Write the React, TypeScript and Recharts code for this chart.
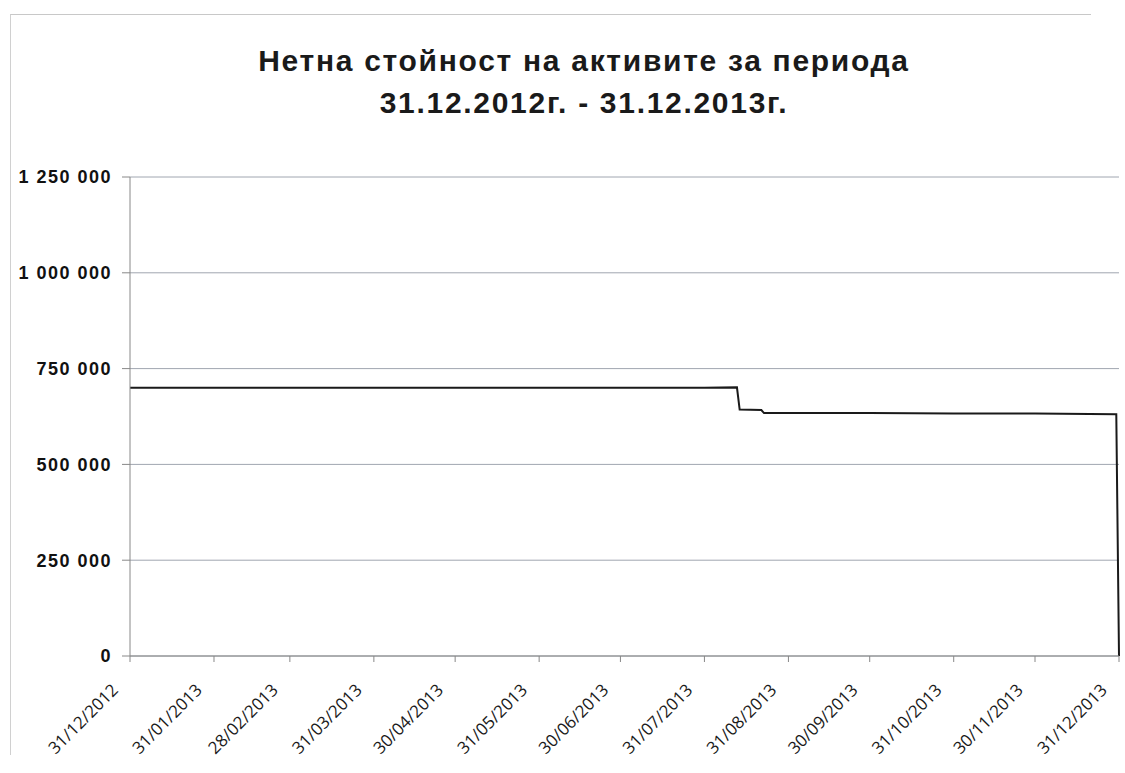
import React from 'react';
import { LineChart, Line, XAxis, YAxis, CartesianGrid } from 'recharts';

const title1 = 'Нетна стойност на активите за периода';
const title2 = '31.12.2012г. - 31.12.2013г.';

const navDates = [
  '2012-12-31', '2013-01-31', '2013-02-28', '2013-03-31', '2013-04-30', '2013-05-31',
  '2013-06-30', '2013-07-31', '2013-08-12', '2013-08-13', '2013-08-21', '2013-08-22',
  '2013-09-30', '2013-10-31', '2013-11-30', '2013-12-30', '2013-12-31',
];
const navValues = [
  700000, 700000, 700000, 700000, 700000, 700000,
  700000, 700000, 701000, 643000, 642000, 634000,
  634000, 633000, 633000, 631000, 0,
];
const tickDates = [
  '2012-12-31', '2013-01-31', '2013-02-28', '2013-03-31', '2013-04-30', '2013-05-31', '2013-06-30',
  '2013-07-31', '2013-08-31', '2013-09-30', '2013-10-31', '2013-11-30', '2013-12-31',
];
const yTicks = [0, 250000, 500000, 750000, 1000000, 1250000];

const DAY = 86400000;
const origin = Date.UTC(2012, 11, 31);
const toDay = (s: string) => {
  const [y, m, d] = s.split('-').map(Number);
  return Math.round((Date.UTC(y, m - 1, d) - origin) / DAY);
};
const fmtDay = (n: number) => {
  const dt = new Date(origin + n * DAY);
  const dd = String(dt.getUTCDate()).padStart(2, '0');
  const mm = String(dt.getUTCMonth() + 1).padStart(2, '0');
  return `${dd}/${mm}/${dt.getUTCFullYear()}`;
};
const fmtNum = (v: number) => String(v).replace(/\B(?=(\d{3})+(?!\d))/g, ' ');

const data = navDates.map((d, i) => ({ day: toDay(d), nav: navValues[i] }));
const xTicks = tickDates.map(toDay);

const font = '"Liberation Sans", Arial, sans-serif';

const DateTick = (props: any) => {
  const { x, y, payload } = props;
  return (
    <g transform={`translate(${x - 14},${y + 24})`}>
      <text transform="rotate(-45)" textAnchor="end" dominantBaseline="middle" fontFamily='"Open Sans", sans-serif' fontSize={17} fill="#1a1a1a">
        {fmtDay(payload.value)}
      </text>
    </g>
  );
};

export default function App() {
  return (
    <div style={{ position: 'absolute', left: 0, top: 0, width: 1125, height: 773, background: '#fff', fontFamily: font }}>
      <div style={{ position: 'absolute', left: 10, top: 14, width: 1080, height: 740, borderTop: '1px solid #c8c8c8', borderLeft: '1px solid #d0d0d0' }} />
      <div style={{ position: 'absolute', left: 0, top: 40, width: 1168, textAlign: 'center', fontSize: 30, fontWeight: 'bold', letterSpacing: 1.7, lineHeight: '42px', color: '#1a1a1a' }}>
        <div>{title1}</div>
        <div>{title2}</div>
      </div>
      <div style={{ position: 'absolute', left: 0, top: 0 }}>
        <LineChart width={1125} height={773} data={data} margin={{ top: 177, right: 6, bottom: 27, left: 0 }}>
          <CartesianGrid vertical={false} stroke="#a0a6b0" strokeWidth={1} />
          <XAxis
            dataKey="day"
            type="number"
            domain={[0, 365]}
            ticks={xTicks}
            interval={0}
            height={90}
            tick={<DateTick />}
            tickLine={{ stroke: '#888' }}
            tickSize={6}
            axisLine={{ stroke: '#888' }}
          />
          <YAxis
            width={130}
            domain={[0, 1250000]}
            ticks={yTicks}
            tickFormatter={fmtNum}
            tick={{ fontFamily: font, fontSize: 18, fontWeight: 'bold', fill: '#111', letterSpacing: 1.5 }}
            tickLine={{ stroke: '#888' }}
            tickSize={8}
            tickMargin={10}
            axisLine={{ stroke: '#888' }}
          />
          <Line
            type="linear"
            dataKey="nav"
            stroke="#1a1a1a"
            strokeWidth={2}
            dot={false}
            isAnimationActive={false}
          />
        </LineChart>
      </div>
    </div>
  );
}
